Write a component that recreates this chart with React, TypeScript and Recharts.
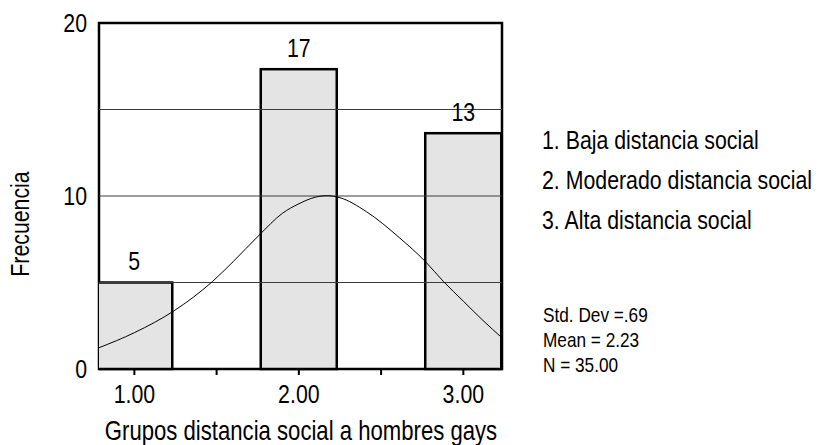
import React from 'react';
import { ComposedChart, Bar, Line, XAxis, YAxis, ReferenceLine, ReferenceArea, LabelList } from 'recharts';

const FONT = "'Liberation Sans', Arial, Helvetica, sans-serif";
const NARROW = 0.82;
const BAR_PX = 76;

const xDomain = [0.785, 3.235];
const barX = [1, 2, 3];
const barHeights = [5, 17.33, 13.63];
const barLabels = ['5', '17', '13'];
const xTicks = [1, 1.5, 2, 2.5, 3];
const xTickLabels = ['1.00', '', '2.00', '', '3.00'];
const yTicks = [0, 10, 20];
const yTickLabels = ['0', '10', '20'];
const gridValues = [5, 10, 15];
const curveX = [0.785, 1.0, 1.242, 1.474, 1.6, 1.76, 1.9, 2.0, 2.1, 2.17, 2.25, 2.41, 2.61, 2.77, 2.88, 3.0, 3.12, 3.235];
const curveY = [1.23, 2.1, 3.37, 5.05, 6.2, 7.75, 9.0, 9.55, 9.93, 10.02, 9.9, 9.1, 7.6, 6.2, 5.05, 3.92, 2.8, 1.8];
const legendLines = ['1. Baja distancia social', '2. Moderado distancia social', '3. Alta distancia social'];
const statLines = ['Std. Dev =.69', 'Mean = 2.23', 'N = 35.00'];
const xTitle = 'Grupos distancia social a hombres gays';
const yTitle = 'Frecuencia';

const barData = barX.map((x, i) => ({ x, count: barHeights[i], label: barLabels[i] }));
const curveData = curveX.map((x, i) => ({ x, density: curveY[i] }));

type NTProps = { x: number; y: number; size: number; anchor?: 'start' | 'middle' | 'end'; rotate?: number; children: React.ReactNode };
const NarrowText = ({ x, y, size, anchor = 'start', rotate, children }: NTProps) => (
  <text
    transform={`translate(${x},${y})${rotate ? ` rotate(${rotate})` : ''} scale(${NARROW},1)`}
    textAnchor={anchor}
    fontSize={size}
    fontFamily={FONT}
    fill="#000"
  >
    {children}
  </text>
);

const XTick = (props: any) => {
  const { x, payload } = props;
  const idx = xTicks.indexOf(payload.value);
  const label = idx >= 0 ? xTickLabels[idx] : '';
  if (!label) return <g />;
  return <NarrowText x={x} y={403} size={26} anchor="middle">{label}</NarrowText>;
};

const YTick = (props: any) => {
  const { y, payload } = props;
  const idx = yTicks.indexOf(payload.value);
  const label = idx >= 0 ? yTickLabels[idx] : '';
  return <NarrowText x={87} y={y + 9.3} size={26} anchor="end">{label}</NarrowText>;
};

const BarShape = (props: any) => {
  const { x, y, width, height } = props;
  if (!height) return <g />;
  const cx = x + width / 2;
  return <rect x={cx - BAR_PX / 2} y={y} width={BAR_PX} height={height} fill="#e4e4e4" stroke="#000" strokeWidth={2.5} />;
};

const BarLabel = (props: any) => {
  const { x, y, width, value } = props;
  if (value === undefined || value === null) return null;
  return <NarrowText x={x + width / 2} y={y - 12.5} size={26} anchor="middle">{value}</NarrowText>;
};

export default function App() {
  return (
    <div style={{ position: 'absolute', left: 0, top: 0, width: 821, height: 445, background: '#fff' }}>
      <ComposedChart width={821} height={445} data={barData} margin={{ top: 23, right: 319, bottom: 0, left: 0 }}>
        <XAxis
          dataKey="x"
          type="number"
          domain={xDomain}
          ticks={xTicks}
          allowDataOverflow
          height={76}
          axisLine={false}
          tickLine={{ stroke: '#000', strokeWidth: 2 }}
          tickSize={6}
          tick={<XTick />}
          interval={0}
        />
        <YAxis
          type="number"
          domain={[0, 20]}
          ticks={yTicks}
          width={99}
          axisLine={false}
          tickLine={false}
          tick={<YTick />}
          interval={0}
        />
        <Bar dataKey="count" shape={<BarShape />} isAnimationActive={false}>
          <LabelList dataKey="label" content={<BarLabel />} />
        </Bar>
        {gridValues.map((v) => (
          <ReferenceLine key={v} y={v} stroke="#3c3c3c" strokeWidth={1} />
        ))}
        <Line
          data={curveData}
          dataKey="density"
          type="monotone"
          stroke="#000"
          strokeWidth={1}
          dot={false}
          activeDot={false}
          isAnimationActive={false}
        />
        <ReferenceArea x1={xDomain[0]} x2={xDomain[1]} y1={0} y2={20} fill="none" fillOpacity={0} stroke="#000" strokeWidth={2.5} />
      </ComposedChart>
      <svg width={821} height={445} style={{ position: 'absolute', left: 0, top: 0, pointerEvents: 'none' }}>
        <NarrowText x={20} y={224} size={26} anchor="middle" rotate={-90}>
          <tspan dy="0.35em">{yTitle}</tspan>
        </NarrowText>
        <NarrowText x={301} y={440} size={27} anchor="middle">{xTitle}</NarrowText>
        {legendLines.map((t, i) => (
          <NarrowText key={t} x={542} y={149.3 + i * 39.8} size={26}>{t}</NarrowText>
        ))}
        {statLines.map((t, i) => (
          <NarrowText key={t} x={543} y={321.7 + i * 25} size={21}>{t}</NarrowText>
        ))}
      </svg>
    </div>
  );
}
